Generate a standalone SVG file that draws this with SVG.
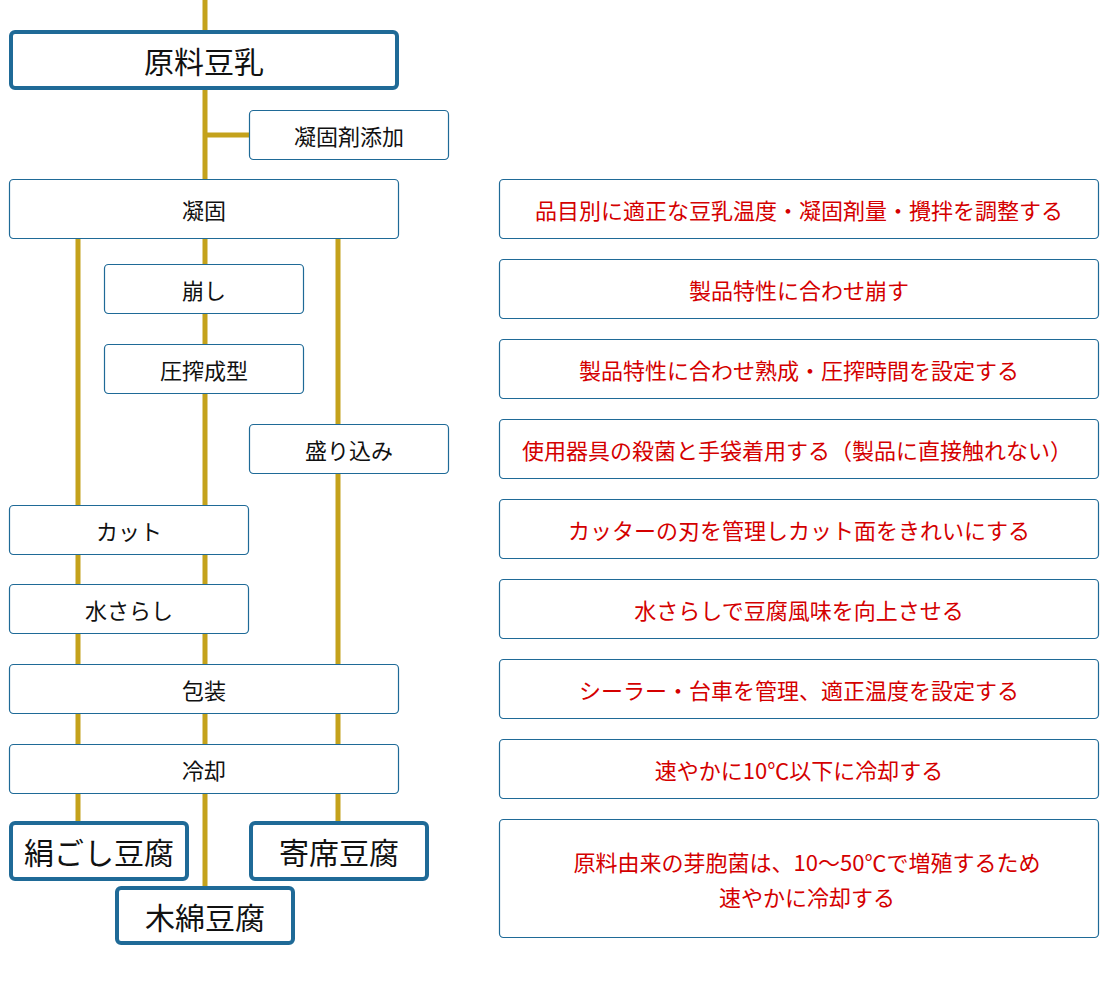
<svg xmlns="http://www.w3.org/2000/svg" width="1110" height="1000" viewBox="0 0 1110 1000">
<style>
.b{fill:#fff;stroke:#1f6a97;stroke-width:1.2}
.t{fill:#fff;stroke:#1f6a97;stroke-width:4}
.l{stroke:#c4a21c;stroke-width:5;fill:none}
text{font-family:"Noto Sans CJK JP","Noto Sans",sans-serif;text-anchor:middle;dominant-baseline:central}
.k{font-size:22px;fill:#111}
.K{font-size:30px;fill:#111}
.r{font-size:22px;fill:#d40000}
</style>
<rect width="1110" height="1000" fill="#fff"/>
<g id="connectors">
<line class="l" x1="205" y1="0" x2="205" y2="887"/>
<line class="l" x1="205" y1="135" x2="249" y2="135"/>
<line class="l" x1="78" y1="238" x2="78" y2="822"/>
<line class="l" x1="338" y1="238" x2="338" y2="822"/>
</g>
<g id="n1"><rect class="t" x="11" y="32" width="386" height="56" rx="4"/><text class="K" x="204" y="60">原料豆乳</text></g>
<g id="n2"><rect class="b" x="249.5" y="110.5" width="199" height="49" rx="4"/><text class="k" x="349" y="135">凝固剤添加</text></g>
<g id="n3"><rect class="b" x="9.5" y="179.5" width="389" height="59" rx="4"/><text class="k" x="204" y="209">凝固</text></g>
<g id="n4"><rect class="b" x="104.5" y="264.5" width="199" height="49" rx="4"/><text class="k" x="204" y="289">崩し</text></g>
<g id="n5"><rect class="b" x="104.5" y="344.5" width="199" height="49" rx="4"/><text class="k" x="204" y="369">圧搾成型</text></g>
<g id="n6"><rect class="b" x="249.5" y="424.5" width="199" height="49" rx="4"/><text class="k" x="349" y="449">盛り込み</text></g>
<g id="n7"><rect class="b" x="9.5" y="505.5" width="239" height="49" rx="4"/><text class="k" x="129" y="530">カット</text></g>
<g id="n8"><rect class="b" x="9.5" y="584.5" width="239" height="49" rx="4"/><text class="k" x="129" y="609">水さらし</text></g>
<g id="n9"><rect class="b" x="9.5" y="664.5" width="389" height="49" rx="4"/><text class="k" x="204" y="689">包装</text></g>
<g id="n10"><rect class="b" x="9.5" y="744.5" width="389" height="49" rx="4"/><text class="k" x="204" y="769">冷却</text></g>
<g id="n11"><rect class="t" x="11" y="823" width="176" height="56" rx="4"/><text class="K" x="99" y="851">絹ごし豆腐</text></g>
<g id="n12"><rect class="t" x="251" y="823" width="176" height="56" rx="4"/><text class="K" x="339" y="851">寄席豆腐</text></g>
<g id="n13"><rect class="t" x="117" y="888" width="176" height="55" rx="4"/><text class="K" x="205" y="916">木綿豆腐</text></g>
<g id="r1"><rect class="b" x="499.5" y="179.5" width="599" height="59" rx="4"/><text class="r" x="799" y="209">品目別に適正な豆乳温度・凝固剤量・攪拌を調整する</text></g>
<g id="r2"><rect class="b" x="499.5" y="259.5" width="599" height="59" rx="4"/><text class="r" x="799" y="289">製品特性に合わせ崩す</text></g>
<g id="r3"><rect class="b" x="499.5" y="339.5" width="599" height="59" rx="4"/><text class="r" x="799" y="369">製品特性に合わせ熟成・圧搾時間を設定する</text></g>
<g id="r4"><rect class="b" x="499.5" y="419.5" width="599" height="59" rx="4"/><text class="r" x="797" y="449">使用器具の殺菌と手袋着用する（製品に直接触れない）</text></g>
<g id="r5"><rect class="b" x="499.5" y="499.5" width="599" height="59" rx="4"/><text class="r" x="799" y="529">カッターの刃を管理しカット面をきれいにする</text></g>
<g id="r6"><rect class="b" x="499.5" y="579.5" width="599" height="59" rx="4"/><text class="r" x="799" y="609">水さらしで豆腐風味を向上させる</text></g>
<g id="r7"><rect class="b" x="499.5" y="659.5" width="599" height="59" rx="4"/><text class="r" x="799" y="689">シーラー・台車を管理、適正温度を設定する</text></g>
<g id="r8"><rect class="b" x="499.5" y="739.5" width="599" height="59" rx="4"/><text class="r" x="799" y="769">速やかに10℃以下に冷却する</text></g>
<g id="r9"><rect class="b" x="499.5" y="819.5" width="599" height="118" rx="4"/><text class="r" x="807" y="861">原料由来の芽胞菌は、10～50℃で増殖するため</text><text class="r" x="807" y="896">速やかに冷却する</text></g>
</svg>
